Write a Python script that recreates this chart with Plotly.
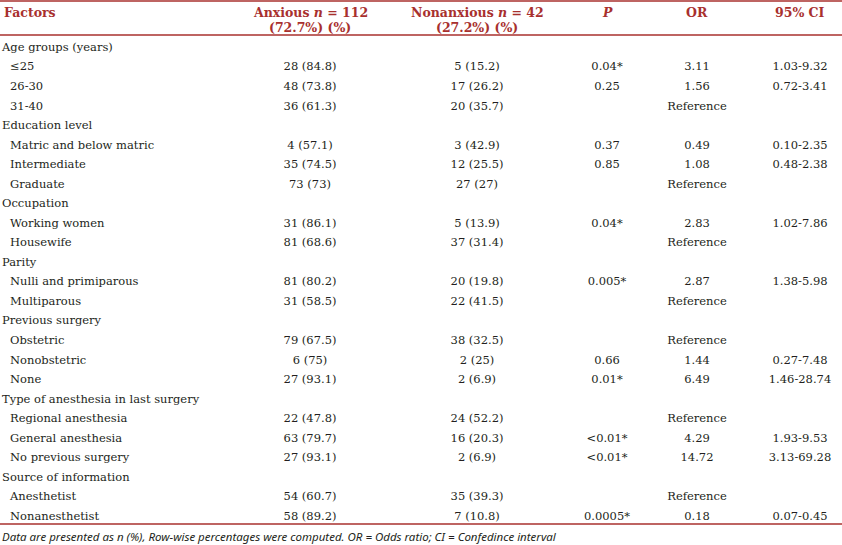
import plotly.graph_objects as go

# ---- data ----
header_line1 = ["<b>Factors</b>", "<b>Anxious <i>n</i> = 112</b>",
                "<b>Nonanxious <i>n</i> = 42</b>", "<b><i>P</i></b>",
                "<b>OR</b>", "<b>95% CI</b>"]
header_line2 = ["", "<b>(72.7%) (%)</b>", "<b>(27.2%) (%)</b>", "", "", ""]

group_rows = ["Age groups (years)", "Education level", "Occupation", "Parity",
              "Previous surgery", "Type of anesthesia in last surgery",
              "Source of information"]

factors = ["Age groups (years)", "≤25", "26-30", "31-40",
           "Education level", "Matric and below matric", "Intermediate", "Graduate",
           "Occupation", "Working women", "Housewife",
           "Parity", "Nulli and primiparous", "Multiparous",
           "Previous surgery", "Obstetric", "Nonobstetric", "None",
           "Type of anesthesia in last surgery", "Regional anesthesia",
           "General anesthesia", "No previous surgery",
           "Source of information", "Anesthetist", "Nonanesthetist"]

anxious = ["", "28 (84.8)", "48 (73.8)", "36 (61.3)",
           "", "4 (57.1)", "35 (74.5)", "73 (73)",
           "", "31 (86.1)", "81 (68.6)",
           "", "81 (80.2)", "31 (58.5)",
           "", "79 (67.5)", "6 (75)", "27 (93.1)",
           "", "22 (47.8)", "63 (79.7)", "27 (93.1)",
           "", "54 (60.7)", "58 (89.2)"]

nonanxious = ["", "5 (15.2)", "17 (26.2)", "20 (35.7)",
              "", "3 (42.9)", "12 (25.5)", "27 (27)",
              "", "5 (13.9)", "37 (31.4)",
              "", "20 (19.8)", "22 (41.5)",
              "", "38 (32.5)", "2 (25)", "2 (6.9)",
              "", "24 (52.2)", "16 (20.3)", "2 (6.9)",
              "", "35 (39.3)", "7 (10.8)"]

p_values = ["", "0.04*", "0.25", "",
            "", "0.37", "0.85", "",
            "", "0.04*", "",
            "", "0.005*", "",
            "", "", "0.66", "0.01*",
            "", "", "<0.01*", "<0.01*",
            "", "", "0.0005*"]

odds_ratios = ["", "3.11", "1.56", "Reference",
               "", "0.49", "1.08", "Reference",
               "", "2.83", "Reference",
               "", "2.87", "Reference",
               "", "Reference", "1.44", "6.49",
               "", "Reference", "4.29", "14.72",
               "", "Reference", "0.18"]

ci = ["", "1.03-9.32", "0.72-3.41", "",
      "", "0.10-2.35", "0.48-2.38", "",
      "", "1.02-7.86", "",
      "", "1.38-5.98", "",
      "", "", "0.27-7.48", "1.46-28.74",
      "", "", "1.93-9.53", "3.13-69.28",
      "", "", "0.07-0.45"]

footnote = ("Data are presented as n (%), Row-wise percentages were computed. "
            "OR = Odds ratio; CI = Confedince interval")

# ---- layout constants (pixels) ----
RED = "#a8302e"
TXT = "#231f20"
W, H = 842, 545
FIRST_ROW_PX = 48
LAST_ROW_PX = 517
TOP_LINE_PX, HEADER_LINE_PX, BOTTOM_LINE_PX = 1, 35, 524
HEADER_Y_PX = [13, 27]
FOOT_Y_PX = 536
GROUP_X, ITEM_X = 2, 10
COL_CENTERS = [310, 477, 607, 697, 800]
BODY_FONT = dict(family="DejaVu Serif", size=11.5, color=TXT)
HEAD_FONT = dict(family="DejaVu Serif", size=12.5, color=RED)

row_idx = list(range(len(factors)))
px_per_row = (LAST_ROW_PX - FIRST_ROW_PX) / (len(factors) - 1)
y_max = FIRST_ROW_PX / px_per_row
y_min = y_max - H / px_per_row

fig = go.Figure()

is_group = [f in group_rows for f in factors]
fig.add_trace(go.Scatter(
    x=[GROUP_X] * sum(is_group),
    y=[-i for i, g in zip(row_idx, is_group) if g],
    text=[f for f, g in zip(factors, is_group) if g],
    mode="text", textposition="middle right", textfont=BODY_FONT,
    hoverinfo="skip", showlegend=False))
fig.add_trace(go.Scatter(
    x=[ITEM_X] * (len(factors) - sum(is_group)),
    y=[-i for i, g in zip(row_idx, is_group) if not g],
    text=[f for f, g in zip(factors, is_group) if not g],
    mode="text", textposition="middle right", textfont=BODY_FONT,
    hoverinfo="skip", showlegend=False))

for cx, col in zip(COL_CENTERS, [anxious, nonanxious, p_values, odds_ratios, ci]):
    keep = [i for i, v in enumerate(col) if v]
    fig.add_trace(go.Scatter(
        x=[cx] * len(keep), y=[-i for i in keep],
        text=[col[i].replace("<", "&lt;") for i in keep],
        mode="text", textposition="middle center", textfont=BODY_FONT,
        hoverinfo="skip", showlegend=False))

# header texts
header_x = [GROUP_X] + COL_CENTERS
for j, (l1, l2) in enumerate(zip(header_line1, header_line2)):
    for txt, ypx in zip([l1, l2], HEADER_Y_PX):
        if not txt:
            continue
        fig.add_annotation(text=txt, x=header_x[j], xref="x",
                           y=1 - ypx / H, yref="paper",
                           xanchor="left" if j == 0 else "center", yanchor="middle",
                           showarrow=False, font=HEAD_FONT)

for ypx in [TOP_LINE_PX, HEADER_LINE_PX, BOTTOM_LINE_PX]:
    fig.add_shape(type="line", xref="paper", yref="paper",
                  x0=0, x1=1, y0=1 - ypx / H, y1=1 - ypx / H,
                  line=dict(color=RED, width=1.5))

fig.add_annotation(text=footnote, xref="paper", yref="paper",
                   x=0, y=1 - FOOT_Y_PX / H, xanchor="left", yanchor="middle",
                   showarrow=False,
                   font=dict(family="Noto Sans", size=11.5, color=TXT, style="italic"))

fig.update_layout(width=W, height=H, margin=dict(l=0, r=0, t=0, b=0),
                  paper_bgcolor="white", plot_bgcolor="white",
                  xaxis=dict(range=[0, W], visible=False, fixedrange=True),
                  yaxis=dict(range=[y_min, y_max], visible=False, fixedrange=True))

fig.write_html("out.html", config={"responsive": False, "displayModeBar": False},
               post_script="document.body.style.margin='0';")
